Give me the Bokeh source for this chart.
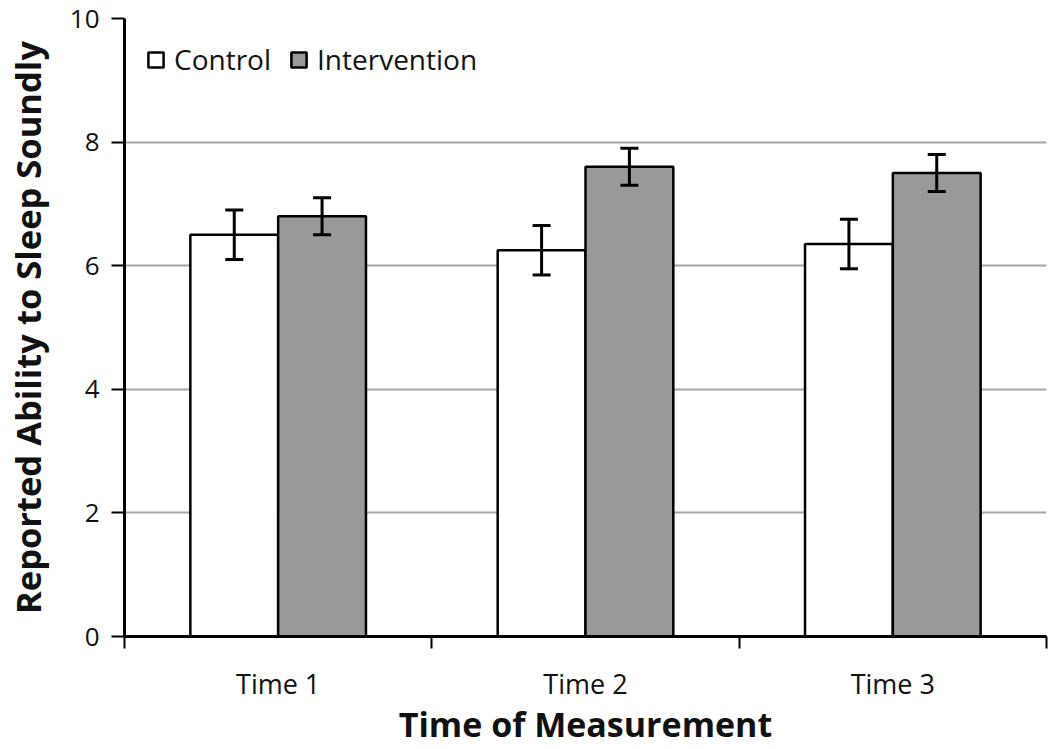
import numpy as np
from bokeh.plotting import figure
from bokeh.models import ColumnDataSource, FixedTicker, Whisker, TeeHead, Legend, LegendItem
from bokeh.embed import file_html
from bokeh.resources import INLINE

categories = ["Time 1", "Time 2", "Time 3"]
control_mean = [6.5, 6.25, 6.35]
control_err = [0.4, 0.4, 0.4]
intervention_mean = [6.8, 7.6, 7.5]
intervention_err = [0.3, 0.3, 0.3]
y_ticks = [0, 2, 4, 6, 8, 10]

bw = 1 / 3.5
centers = np.arange(len(categories)) + 0.5

src_c = ColumnDataSource(dict(
    x=centers - bw / 2, top=control_mean,
    upper=np.array(control_mean) + np.array(control_err),
    lower=np.array(control_mean) - np.array(control_err)))
src_i = ColumnDataSource(dict(
    x=centers + bw / 2, top=intervention_mean,
    upper=np.array(intervention_mean) + np.array(intervention_err),
    lower=np.array(intervention_mean) - np.array(intervention_err)))

p = figure(width=1048, height=749, x_range=(0, len(categories)), y_range=(0, 10),
           output_backend="svg", toolbar_location=None,
           min_border_left=124, min_border_right=2, min_border_top=18, min_border_bottom=113)
p.outline_line_color = None
p.background_fill_color = "white"

r_c = p.vbar(x="x", top="top", bottom=0, width=bw, source=src_c,
             fill_color="white", line_color="black", line_width=2.5)
r_i = p.vbar(x="x", top="top", bottom=0, width=bw, source=src_i,
             fill_color="#999999", line_color="black", line_width=2.5)

for s in (src_c, src_i):
    w = Whisker(source=s, base="x", upper="upper", lower="lower",
                line_color="black", line_width=3, level="overlay",
                upper_head=TeeHead(size=18, line_width=3, line_color="black"),
                lower_head=TeeHead(size=18, line_width=3, line_color="black"))
    p.add_layout(w)

# axes
xa = p.xaxis[0]
xa.ticker = FixedTicker(ticks=list(centers), minor_ticks=list(range(len(categories) + 1)))
xa.major_label_overrides = {float(c): lab for c, lab in zip(centers, categories)}
xa.major_tick_out = 0
xa.major_tick_in = 0
xa.minor_tick_out = 12
xa.minor_tick_in = 0
xa.minor_tick_line_width = 2
xa.minor_tick_line_color = "black"
xa.axis_line_width = 3
xa.axis_line_color = "black"
xa.major_label_text_font = "Open Sans"
xa.major_label_text_font_size = "27px"
xa.major_label_text_color = "#111111"
xa.major_label_standoff = 16
xa.axis_label = "Time of Measurement"
xa.axis_label_text_font = "Open Sans"
xa.axis_label_text_font_style = "bold"
xa.axis_label_text_font_size = "34px"
xa.axis_label_text_color = "#111111"
xa.axis_label_standoff = -4

ya = p.yaxis[0]
ya.ticker = FixedTicker(ticks=y_ticks, minor_ticks=[])
ya.major_tick_out = 13
ya.major_tick_in = 0
ya.major_tick_line_width = 2
ya.major_tick_line_color = "black"
ya.minor_tick_out = 0
ya.minor_tick_in = 0
ya.axis_line_width = 3
ya.axis_line_color = "black"
ya.major_label_text_font = "Open Sans"
ya.major_label_text_font_size = "26px"
ya.major_label_text_color = "#111111"
ya.major_label_standoff = 12
ya.axis_label = "Reported Ability to Sleep Soundly"
ya.axis_label_text_font = "Open Sans"
ya.axis_label_text_font_style = "bold"
ya.axis_label_text_font_size = "34.5px"
ya.axis_label_text_color = "#111111"
ya.axis_label_standoff = 16

p.xgrid.visible = False
p.ygrid.ticker = FixedTicker(ticks=y_ticks[1:])
p.ygrid.grid_line_color = "#a6a6a6"
p.ygrid.grid_line_width = 2

legend = Legend(items=[LegendItem(label="Control", renderers=[r_c]),
                       LegendItem(label="Intervention", renderers=[r_i])],
                orientation="horizontal", location="top_left",
                background_fill_alpha=0, border_line_color=None,
                label_text_font="Open Sans", label_text_font_size="28px",
                label_text_color="#111111",
                glyph_width=19, glyph_height=19, spacing=18, label_standoff=9,
                margin=22, padding=10)
p.add_layout(legend)

open("out.html", "w").write(file_html(p, INLINE))
